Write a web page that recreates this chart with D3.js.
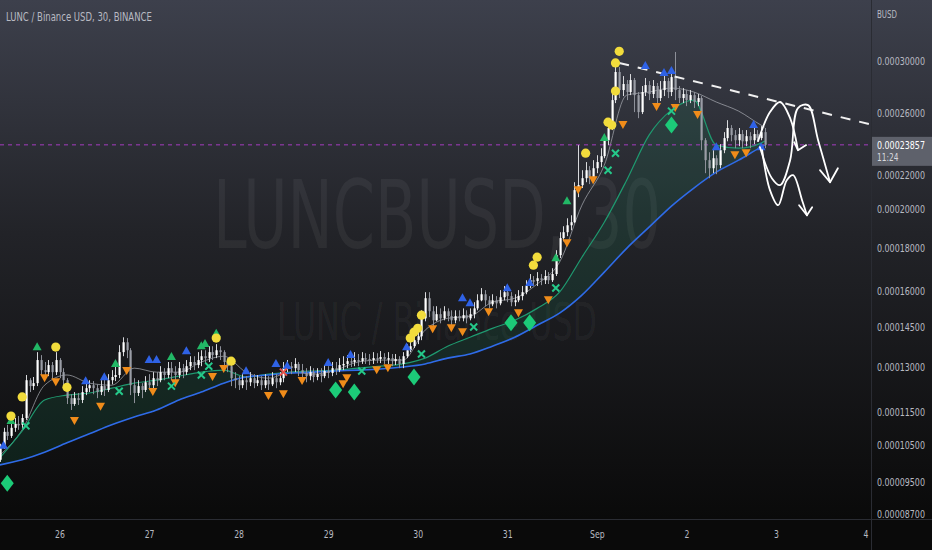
<!DOCTYPE html>
<html><head><meta charset="utf-8">
<script src="https://cdn.jsdelivr.net/npm/d3@7"></script>
<style>
html,body{margin:0;padding:0;background:#000;}
svg{display:block;}
text{font-family:"Liberation Sans Narrow","DejaVu Sans Condensed","Roboto Condensed","DejaVu Sans",sans-serif;}
</style></head><body>
<svg id="c" width="932" height="550"></svg>
<script>
// ---------- DATA (prices in units of 1e-4 BUSD) ----------
const UNIT = 1e-4;
const startTime = Date.UTC(2022, 7, 25, 8);   // first hourly candle
const candleHours = 1;
const firstOpen = 1.009;
const closes = [
1.045,1.089,1.077,1.101,1.113,1.110,1.131,1.254,1.234,1.244,
1.325,1.289,1.282,1.307,1.282,1.325,1.282,1.254,1.194,1.175,
1.194,1.188,1.214,1.227,1.237,1.227,1.214,1.234,1.221,1.254,
1.265,1.272,1.354,1.391,1.361,1.237,1.211,1.234,1.221,1.247,
1.237,1.261,1.254,1.282,1.272,1.296,1.282,1.272,1.296,1.282,
1.303,1.318,1.307,1.325,1.339,1.332,1.354,1.343,1.361,1.354,
1.318,1.303,1.261,1.254,1.237,1.254,1.247,1.261,1.244,1.254,
1.237,1.254,1.240,1.261,1.247,1.261,1.296,1.303,1.296,1.311,
1.289,1.279,1.268,1.282,1.265,1.275,1.268,1.286,1.279,1.296,
1.289,1.307,1.311,1.321,1.318,1.325,1.321,1.332,1.329,1.325,
1.332,1.329,1.336,1.329,1.332,1.321,1.329,1.311,1.339,1.361,
1.376,1.399,1.414,1.485,1.569,1.514,1.477,1.502,1.485,1.514,
1.494,1.477,1.494,1.485,1.498,1.485,1.502,1.526,1.560,1.586,
1.560,1.543,1.560,1.547,1.573,1.595,1.578,1.552,1.560,1.578,
1.595,1.622,1.648,1.644,1.657,1.648,1.667,1.648,1.676,1.765,
1.849,1.879,1.915,1.931,2.108,2.137,2.178,2.226,2.178,2.238,
2.276,2.313,2.416,2.498,2.696,2.911,2.771,2.817,2.756,2.848,
2.733,2.609,2.756,2.809,2.741,2.802,2.711,2.771,2.840,2.756,
2.871,2.771,2.711,2.741,2.696,2.733,2.682,2.711,2.416,2.288,
2.238,2.300,2.257,2.351,2.430,2.498,2.450,2.416,2.457,2.409,
2.443,2.416,2.457,2.430,2.470,2.3857];
const highs = [
1.054,1.101,1.110,1.125,1.131,1.137,1.143,1.272,1.261,1.265,
1.354,1.343,1.318,1.325,1.318,1.354,1.332,1.296,1.261,1.207,
1.214,1.211,1.234,1.247,1.254,1.251,1.240,1.254,1.261,1.275,
1.289,1.307,1.380,1.410,1.407,1.369,1.261,1.254,1.244,1.268,
1.275,1.282,1.282,1.303,1.296,1.318,1.318,1.303,1.318,1.311,
1.325,1.339,1.339,1.354,1.361,1.361,1.376,1.376,1.384,1.376,
1.361,1.332,1.311,1.282,1.268,1.275,1.268,1.282,1.275,1.272,
1.268,1.275,1.268,1.282,1.275,1.282,1.318,1.325,1.318,1.332,
1.318,1.311,1.296,1.303,1.296,1.296,1.296,1.307,1.303,1.318,
1.318,1.332,1.339,1.343,1.347,1.354,1.347,1.354,1.350,1.347,
1.354,1.350,1.358,1.350,1.354,1.347,1.347,1.339,1.354,1.384,
1.399,1.422,1.445,1.518,1.595,1.595,1.535,1.535,1.526,1.535,
1.526,1.518,1.518,1.518,1.526,1.518,1.526,1.552,1.586,1.613,
1.604,1.578,1.586,1.578,1.604,1.622,1.613,1.595,1.586,1.604,
1.622,1.648,1.676,1.667,1.685,1.676,1.694,1.685,1.703,1.789,
1.879,1.910,1.952,1.968,2.154,2.384,2.226,2.276,2.251,2.288,
2.319,2.364,2.457,2.538,2.741,2.959,2.951,2.879,2.848,2.895,
2.864,2.756,2.802,2.864,2.840,2.848,2.825,2.840,2.887,2.864,
2.951,3.075,2.802,2.786,2.771,2.771,2.756,2.741,2.726,2.430,
2.338,2.351,2.319,2.390,2.470,2.552,2.518,2.484,2.498,2.484,
2.484,2.470,2.498,2.484,2.511,2.498];
const lows = [
1.003,1.039,1.065,1.071,1.089,1.095,1.101,1.125,1.214,1.221,
1.234,1.272,1.261,1.268,1.254,1.272,1.261,1.234,1.175,1.156,
1.169,1.172,1.178,1.204,1.214,1.207,1.194,1.204,1.201,1.214,
1.240,1.251,1.261,1.339,1.332,1.204,1.178,1.201,1.194,1.214,
1.221,1.227,1.234,1.247,1.254,1.261,1.254,1.254,1.261,1.261,
1.272,1.289,1.289,1.296,1.303,1.311,1.318,1.325,1.332,1.325,
1.296,1.282,1.234,1.227,1.221,1.227,1.221,1.234,1.227,1.234,
1.221,1.227,1.221,1.234,1.227,1.237,1.247,1.282,1.275,1.282,
1.268,1.254,1.247,1.254,1.247,1.254,1.247,1.261,1.261,1.268,
1.272,1.282,1.289,1.296,1.300,1.303,1.303,1.311,1.311,1.307,
1.311,1.314,1.314,1.311,1.311,1.303,1.307,1.296,1.296,1.332,
1.354,1.369,1.384,1.399,1.473,1.490,1.453,1.473,1.465,1.477,
1.473,1.457,1.465,1.473,1.473,1.465,1.477,1.485,1.518,1.556,
1.535,1.526,1.535,1.526,1.539,1.560,1.552,1.535,1.535,1.552,
1.560,1.586,1.613,1.622,1.622,1.626,1.631,1.631,1.640,1.667,
1.751,1.833,1.859,1.889,1.926,2.068,2.120,2.154,2.143,2.166,
2.208,2.245,2.300,2.384,2.484,2.674,2.711,2.726,2.696,2.733,
2.609,2.566,2.595,2.726,2.696,2.711,2.674,2.689,2.726,2.711,
2.726,2.696,2.674,2.674,2.652,2.674,2.638,2.652,2.351,2.208,
2.178,2.208,2.202,2.238,2.332,2.409,2.409,2.364,2.377,2.364,
2.377,2.364,2.390,2.409,2.416,2.364];

// moving averages sampled every 6 candles (plus the last candle)
const maStep = 6;
const maSlow = [0.995,1.009,1.030,1.057,1.083,1.110,1.134,1.156,1.188,1.214,1.244,1.265,1.272,1.279,1.282,1.286,1.289,1.293,1.300,1.311,1.332,1.347,1.376,1.410,1.457,1.506,1.582,1.685,1.798,1.905,2.018,2.120,2.214,2.288,2.371,2.384];
const maMid  = [1.014,1.092,1.188,1.204,1.211,1.227,1.244,1.254,1.268,1.282,1.289,1.265,1.275,1.282,1.286,1.289,1.296,1.303,1.311,1.332,1.376,1.410,1.445,1.477,1.526,1.595,1.755,1.931,2.166,2.450,2.623,2.696,2.384,2.364,2.397,2.411];
const maFast = [1.022,1.095,1.237,1.272,1.244,1.237,1.296,1.282,1.282,1.318,1.339,1.282,1.261,1.282,1.275,1.289,1.318,1.325,1.325,1.438,1.485,1.494,1.552,1.569,1.631,1.731,2.023,2.257,2.733,2.756,2.786,2.756,2.682,2.616,2.518,2.504];

// signal markers: [candle index, price]
const blueUp = [[1,1.051],[23,1.254],[28,1.268],[40,1.329],[42,1.329],[50,1.361],[66,1.289],[74,1.314],[77,1.307],[88,1.318],[94,1.347],[109,1.376],[124,1.573],[126,1.552],[136,1.617],[142,1.640],[173,2.967],[178,2.911],[180,2.927],[192,2.377],[202,2.525],[204,2.377]];
const greenUp = [[3,1.125],[10,1.376],[31,1.314],[46,1.340],[54,1.380],[55,1.388],[58,1.428],[149,1.755],[152,2.051],[162,2.437]];
const yellowDots = [[3,1.137],[6,1.198],[15,1.373],[18,1.230],[58,1.407],[62,1.321],[110,1.407],[111,1.430],[112,1.445],[113,1.498],[143,1.717],[144,1.755],[157,2.332],[163,2.538],[164,2.518],[165,2.764],[165,2.984],[166,3.080]];
const orangeDown = [[12,1.261],[15,1.247],[20,1.122],[27,1.166],[34,1.286],[41,1.214],[47,1.244],[57,1.265],[60,1.293],[72,1.201],[76,1.207],[81,1.251],[92,1.240],[93,1.261],[101,1.289],[104,1.296],[116,1.441],[121,1.445],[124,1.430],[131,1.510],[139,1.506],[147,1.560],[152,1.823],[155,2.108],[159,2.166],[167,2.518],[176,2.645],[181,2.638],[187,2.588],[197,2.319],[200,2.332]];
const greenX = [[7,1.107],[32,1.217],[46,1.234],[54,1.272],[56,1.303],[97,1.286],[113,1.347],[127,1.450],[149,1.613],[163,2.226],[165,2.332],[180,2.616]];
const redX = [[76,1.282]];
const diamonds = [[2,0.946],[90,1.221],[95,1.214],[111,1.265],[137,1.467],[142,1.467],[180,2.518]];

// drawings
const trendLine = [[166,2.984],[233,2.525]];
const sketchA = [[203.2,2.410],[206.4,2.609],[209.1,2.682],[211.8,2.566],[213.9,2.351]];
const sketchB = [[203.7,2.371],[206.9,2.178],[209.1,2.137],[211.8,2.288],[213.9,2.638],[216.6,2.659],[219.3,2.416],[222.5,2.154]];
const sketchC = [[204.3,2.351],[206.4,2.108],[208.6,2.023],[210.9,2.166],[212.6,2.196],[215.0,2.051],[216.3,1.968]];
const heads = [
  [[212.9,2.403],[213.9,2.351],[216.1,2.384]],
  [[219.8,2.226],[222.5,2.154],[224.6,2.238]],
  [[214.2,2.023],[216.3,1.968],[217.7,2.012]]];

const priceTicks = ["0.00030000","0.00026000","0.00022000","0.00020000","0.00018000","0.00016000","0.00014500","0.00013000","0.00011500","0.00010500","0.00009500","0.00008700"];
const dayTicks = [[2022,7,26],[2022,7,27],[2022,7,28],[2022,7,29],[2022,7,30],[2022,7,31],[2022,8,1],[2022,8,2],[2022,8,3],[2022,8,4]];
const dayLabels = ["26","27","28","29","30","31","Sep","2","3","4"];
const title = "LUNC / Binance USD, 30, BINANCE";
const lastPrice = 2.3857;
const countdown = "11:24";

// ---------- CHART ----------
const W = 932, H = 550, plotR = 871, plotB = 519;
const svg = d3.select("#c");
const x = d3.scaleUtc().domain([Date.UTC(2022,7,26), Date.UTC(2022,8,4)]).range([59.5, 865.5]);
const y = d3.scaleLog().domain([0.000087, 0.0003]).range([514, 61]);
const tOf = i => new Date(startTime + i * candleHours * 3600e3);
const X = i => x(tOf(i));
const Y = p => y(p * UNIT);

// squeeze a text horizontally around its own x (reference uses a condensed UI font)
function squeeze(sel, f){
  sel.each(function(){
    const n = d3.select(this);
    const x0 = +n.attr("x") || 0;
    const anchor = n.attr("text-anchor") || getComputedStyle(this).textAnchor;
    n.attr("transform", `translate(${x0},0) scale(${f},1) translate(${-x0},0)`);
  });
}

const defs = svg.append("defs");
const g = defs.append("linearGradient").attr("id","bg").attr("x1",0).attr("x2",0).attr("y1",0).attr("y2",1);
g.append("stop").attr("offset","0%").attr("stop-color","#3d404c");
g.append("stop").attr("offset","45%").attr("stop-color","#222328");
g.append("stop").attr("offset","100%").attr("stop-color","#0a0a0a");
defs.append("clipPath").attr("id","plot").append("rect").attr("x",0).attr("y",0).attr("width",plotR).attr("height",plotB);

svg.append("rect").attr("width",W).attr("height",plotB).attr("fill","url(#bg)");
svg.append("rect").attr("y",plotB).attr("width",W).attr("height",H-plotB).attr("fill","#0a0a0a");

const plot = svg.append("g").attr("clip-path","url(#plot)");

// watermark
const wm1 = plot.append("text").attr("x",437).attr("y",248).attr("text-anchor","middle")
  .attr("font-size",94).attr("fill","rgba(255,255,255,0.055)").text("LUNCBUSD, 30");
const wm2 = plot.append("text").attr("x",437).attr("y",340).attr("text-anchor","middle")
  .attr("font-size",52).attr("fill","rgba(255,255,255,0.055)").text("LUNC / Binance USD");
squeeze(wm1, 448 / wm1.node().getComputedTextLength());
squeeze(wm2, 320 / wm2.node().getComputedTextLength());

// moving averages
const maIdx = maSlow.map((_, k) => Math.min(k * maStep, closes.length - 1));
const band = d3.area().x((d,k)=>X(maIdx[k])).y0((d,k)=>Y(maSlow[k])).y1((d,k)=>Y(maMid[k])).curve(d3.curveMonotoneX);
plot.append("path").datum(maMid).attr("d",band).attr("fill","rgba(22,150,100,0.14)");
const ln = arr => d3.line().x((d,k)=>X(maIdx[k])).y(d=>Y(d)).curve(d3.curveMonotoneX)(arr);
plot.append("path").attr("d",ln(maFast)).attr("fill","none").attr("stroke","rgba(170,172,180,0.7)").attr("stroke-width",1);
plot.append("path").attr("d",ln(maMid)).attr("fill","none").attr("stroke","#1f9a70").attr("stroke-width",1.2);
plot.append("path").attr("d",ln(maSlow)).attr("fill","none").attr("stroke","#2f6be8").attr("stroke-width",1.6);

// last price line
plot.append("line").attr("x1",0).attr("x2",plotR).attr("y1",Y(lastPrice)).attr("y2",Y(lastPrice))
  .attr("stroke","#a53cc0").attr("stroke-width",1).attr("stroke-dasharray","4,4");

// candles
const candles = closes.map((c,i)=>{
  const o = i===0 ? firstOpen : closes[i-1];
  return {i, o, c, h: Math.max(highs[i], o, c), l: Math.min(lows[i], o, c)};
});
const cg = plot.append("g");
cg.selectAll("line").data(candles).join("line")
  .attr("x1",d=>Math.round(X(d.i))+0.5).attr("x2",d=>Math.round(X(d.i))+0.5)
  .attr("y1",d=>Y(d.h)).attr("y2",d=>Y(d.l))
  .attr("stroke",d=>d.c>=d.o?"#d8d9dc":"#8d9099").attr("stroke-width",1);
cg.selectAll("rect").data(candles).join("rect")
  .attr("x",d=>Math.round(X(d.i))-0.5).attr("width",2.2)
  .attr("y",d=>Math.min(Y(d.o),Y(d.c))).attr("height",d=>Math.max(1.5,Math.abs(Y(d.o)-Y(d.c))))
  .attr("fill",d=>d.c>=d.o?"#ffffff":"#9a9da6");

// trend line
plot.append("line").attr("x1",X(trendLine[0][0])).attr("y1",Y(trendLine[0][1]))
  .attr("x2",X(trendLine[1][0])).attr("y2",Y(trendLine[1][1]))
  .attr("stroke","#f0f0f0").attr("stroke-width",2).attr("stroke-dasharray","10,9");

// markers
const mg = plot.append("g");
const tri = (w,h,up) => up ? `M0,${-h/2}L${w/2},${h/2}L${-w/2},${h/2}Z` : `M0,${h/2}L${w/2},${-h/2}L${-w/2},${-h/2}Z`;
function put(arr, path, attrs){
  const s = mg.append("g").selectAll("path").data(arr).join("path")
    .attr("transform",d=>`translate(${X(d[0])},${Y(d[1])})`).attr("d",path);
  for (const k in attrs) s.attr(k, attrs[k]);
}
put(blueUp, tri(9,8,true), {fill:"#2f62e6"});
put(greenUp, tri(9,8,true), {fill:"#22b866"});
put(orangeDown, tri(9,8,false), {fill:"#f08c1a"});
put(diamonds, "M0,-8.5L6.5,0L0,8.5L-6.5,0Z", {fill:"#1ccb78"});
put(greenX, "M-3.5,-3.5L3.5,3.5M-3.5,3.5L3.5,-3.5", {stroke:"#25c98a","stroke-width":2,fill:"none"});
put(redX, "M-3.5,-3.5L3.5,3.5M-3.5,3.5L3.5,-3.5", {stroke:"#e5534b","stroke-width":2,fill:"none"});
mg.append("g").selectAll("circle").data(yellowDots).join("circle")
  .attr("cx",d=>X(d[0])).attr("cy",d=>Y(d[1])).attr("r",4.6).attr("fill","#f2dc3c");

// hand drawn arrows
const sk = d3.line().x(d=>X(d[0])).y(d=>Y(d[1])).curve(d3.curveCatmullRom.alpha(0.5));
const straight = d3.line().x(d=>X(d[0])).y(d=>Y(d[1]));
const ag = svg.append("g").attr("fill","none").attr("stroke","#ffffff").attr("stroke-width",1.8)
  .attr("stroke-linecap","round").attr("stroke-linejoin","round");
[sketchA, sketchB, sketchC].forEach(s => ag.append("path").attr("d", sk(s)));
heads.forEach(h => ag.append("path").attr("d", straight(h)));

// axes
svg.append("line").attr("x1",plotR+0.5).attr("x2",plotR+0.5).attr("y1",0).attr("y2",H).attr("stroke","#2a2c33");
svg.append("line").attr("x1",0).attr("x2",W).attr("y1",plotB+0.5).attr("y2",plotB+0.5).attr("stroke","#2a2c33");

const ya = svg.append("g").attr("transform",`translate(${plotR},0)`)
  .call(d3.axisRight(y).tickValues(priceTicks.map(Number)).tickFormat((d,k)=>priceTicks[k]).tickSize(0).tickPadding(6));
ya.select(".domain").remove();
ya.selectAll("text").attr("fill","#b8bac2").attr("font-size",11);
ya.selectAll("text").each(function(){
  const f = 48 / this.getComputedTextLength();
  d3.select(this).attr("transform", `translate(6,0) scale(${f},1) translate(-6,0)`);
});
const busd = svg.append("text").attr("x",877).attr("y",18).attr("fill","#b8bac2").attr("font-size",10.5).text("BUSD");
squeeze(busd, 0.75);

const xa = svg.append("g").attr("transform",`translate(0,${plotB})`)
  .call(d3.axisBottom(x).tickValues(dayTicks.map(d=>new Date(Date.UTC(d[0],d[1],d[2]))))
    .tickFormat((d,k)=>dayLabels[k]).tickSize(0).tickPadding(11));
xa.select(".domain").remove();
xa.selectAll("text").attr("fill","#b8bac2").attr("font-size",11).attr("transform","scale(0.78,1)");
xa.selectAll(".tick").each(function(){
  // keep labels centred on their tick after scaling
  d3.select(this).select("text").attr("transform","scale(0.78,1)");
});

// last price label
const ly = Y(lastPrice);
svg.append("rect").attr("x",plotR+1).attr("y",ly-8).attr("width",W-plotR-1).attr("height",29).attr("fill","#5e616b");
const lp = svg.append("text").attr("x",877).attr("y",ly+4).attr("fill","#ffffff").attr("font-size",11).text((lastPrice*UNIT).toFixed(8));
squeeze(lp, 48 / lp.node().getComputedTextLength());
const cd = svg.append("text").attr("x",877).attr("y",ly+16).attr("fill","#d6d8de").attr("font-size",11).text(countdown);
squeeze(cd, 0.75);

// title
const tt = svg.append("text").attr("x",6).attr("y",21).attr("fill","#b8bac2").attr("font-size",13).text(title);
squeeze(tt, 146 / tt.node().getComputedTextLength());
</script>
</body></html>
